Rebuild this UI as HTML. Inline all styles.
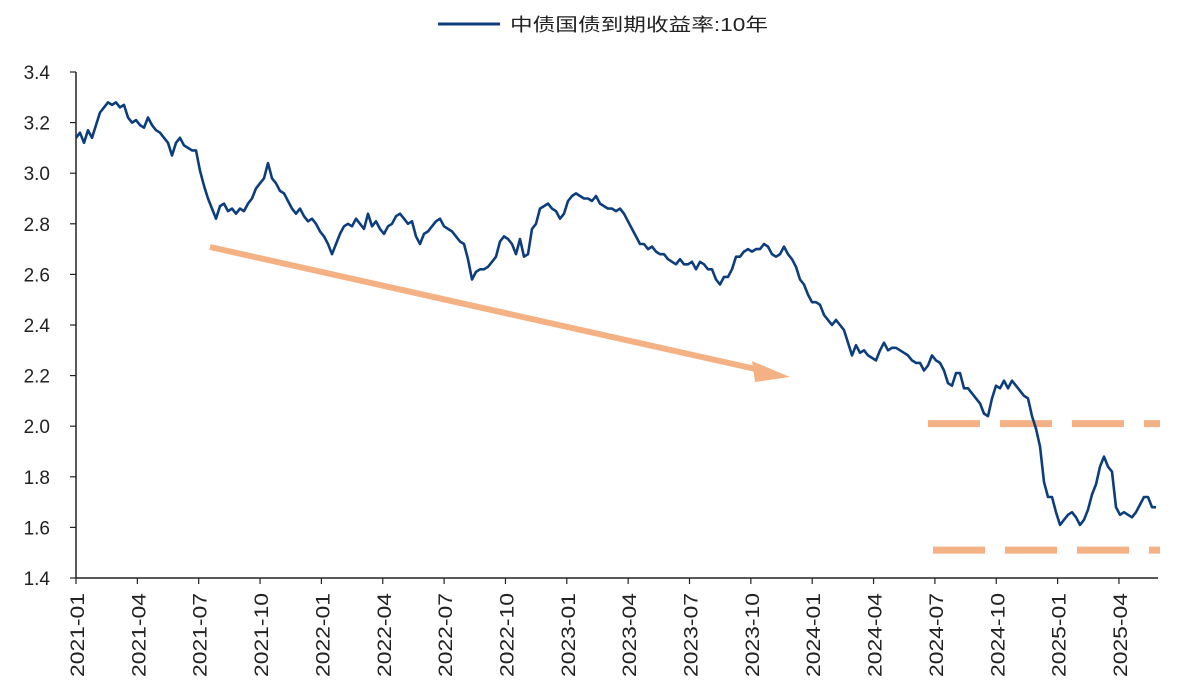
<!DOCTYPE html>
<html><head><meta charset="utf-8"><style>
body{margin:0;background:#fff;}
svg text{font-family:"Liberation Sans","Noto Sans CJK SC",sans-serif;fill:#222;}
</style></head><body>
<svg id="c" width="1182" height="690">
<g>
<line x1="438" y1="24" x2="500" y2="24" stroke="#0c3e7e" stroke-width="3"/>
<text x="510" y="31" font-size="18" textLength="258" lengthAdjust="spacingAndGlyphs">中债国债到期收益率:10年</text>
</g>
</svg>
<script>
const yTicks=[1.4,1.6,1.8,2.0,2.2,2.4,2.6,2.8,3.0,3.2,3.4];
const xTickLabels=["2021-01","2021-04","2021-07","2021-10","2022-01","2022-04","2022-07","2022-10","2023-01","2023-04","2023-07","2023-10","2024-01","2024-04","2024-07","2024-10","2025-01","2025-04"];
const stepMonths=0.1956;
const yields=[3.14,3.16,3.12,3.17,3.14,3.19,3.24,3.26,3.28,3.27,3.28,3.26,3.27,3.22,3.20,3.21,3.19,3.18,3.22,3.19,3.17,3.16,3.14,3.12,3.07,3.12,3.14,3.11,3.10,3.09,3.09,3.01,2.95,2.90,2.86,2.82,2.87,2.88,2.85,2.86,2.84,2.86,2.85,2.88,2.90,2.94,2.96,2.98,3.04,2.98,2.96,2.93,2.92,2.89,2.86,2.84,2.86,2.83,2.81,2.82,2.80,2.77,2.75,2.72,2.68,2.72,2.76,2.79,2.80,2.79,2.82,2.80,2.78,2.84,2.79,2.81,2.78,2.76,2.79,2.80,2.83,2.84,2.82,2.80,2.81,2.75,2.72,2.76,2.77,2.79,2.81,2.82,2.79,2.78,2.77,2.75,2.73,2.72,2.66,2.58,2.61,2.62,2.62,2.63,2.65,2.67,2.73,2.75,2.74,2.72,2.68,2.74,2.67,2.68,2.78,2.80,2.86,2.87,2.88,2.86,2.85,2.82,2.84,2.89,2.91,2.92,2.91,2.90,2.90,2.89,2.91,2.88,2.87,2.86,2.86,2.85,2.86,2.84,2.81,2.78,2.75,2.72,2.72,2.70,2.71,2.69,2.68,2.68,2.66,2.65,2.64,2.66,2.64,2.64,2.65,2.62,2.65,2.64,2.62,2.62,2.58,2.56,2.59,2.59,2.62,2.67,2.67,2.69,2.70,2.69,2.70,2.70,2.72,2.71,2.68,2.67,2.68,2.71,2.68,2.66,2.63,2.58,2.56,2.52,2.49,2.49,2.48,2.44,2.42,2.40,2.42,2.40,2.38,2.33,2.28,2.32,2.29,2.30,2.28,2.27,2.26,2.30,2.33,2.30,2.31,2.31,2.30,2.29,2.28,2.26,2.25,2.25,2.22,2.24,2.28,2.26,2.25,2.22,2.17,2.16,2.21,2.21,2.15,2.15,2.13,2.11,2.09,2.05,2.04,2.11,2.16,2.15,2.18,2.15,2.18,2.16,2.14,2.12,2.11,2.04,1.99,1.92,1.78,1.72,1.72,1.66,1.61,1.63,1.65,1.66,1.64,1.61,1.63,1.67,1.73,1.77,1.84,1.88,1.84,1.82,1.68,1.65,1.66,1.65,1.64,1.66,1.69,1.72,1.72,1.68,1.68];
const rangeLevels=[2.01,1.51];
const NS="http://www.w3.org/2000/svg";
const svg=document.getElementById('c');
const X0=76,X1=1158,Y0=578,Y1=72;
const xScale=m=>X0+m*20.45;
const yScale=v=>Y0-(v-1.4)/(3.4-1.4)*(Y0-Y1);
function mk(t,a){const e=document.createElementNS(NS,t);for(const k in a)e.setAttribute(k,a[k]);svg.appendChild(e);return e;}
let ax=mk('line',{x1:X0,y1:Y1,x2:X0,y2:Y0,stroke:'#222','stroke-width':1.5});


let bx=mk('line',{x1:X0,y1:Y0,x2:X1,y2:Y0,stroke:'#222','stroke-width':1.5});


yTicks.forEach(v=>{
 const y=yScale(v);
 const tk=mk('line',{x1:X0-6,y1:y,x2:X0,y2:y,stroke:'#222','stroke-width':1.2});
 
 
 const t=mk('text',{x:50,y:y+7,'text-anchor':'end','font-size':19});
 t.textContent=v.toFixed(1);
 
 
});
xTickLabels.forEach((s,i)=>{
 const x=xScale(i*3);
 const tk=mk('line',{x1:x,y1:Y0,x2:x,y2:Y0+6,stroke:'#222','stroke-width':1.2});
 
 
 const t=mk('text',{x:0,y:0,'text-anchor':'end','font-size':19,textLength:84,lengthAdjust:'spacingAndGlyphs',transform:`translate(${x+8},${Y0+15}) rotate(-90)`});
 t.textContent=s;
 
 
});
rangeLevels.forEach((v,i)=>{
 const l=mk('line',{x1:i?933:928,y1:yScale(v),x2:1160,y2:yScale(v),stroke:'#f4b183','stroke-width':7,'stroke-dasharray':'52,20'});
 
 
});
const ar=mk('line',{x1:210,y1:247,x2:760,y2:370,stroke:'#f4b183','stroke-width':6});


const ah=mk('polygon',{points:'790,377 752,361 755,382',fill:'#f4b183'});


const d=yields.map((v,i)=>(i?'L':'M')+xScale(i*stepMonths).toFixed(1)+','+yScale(v).toFixed(1)).join('');
const p=mk('path',{d:d,fill:'none',stroke:'#0c3e7e','stroke-width':2.6,'stroke-linejoin':'round'});


</script>
</body></html>
